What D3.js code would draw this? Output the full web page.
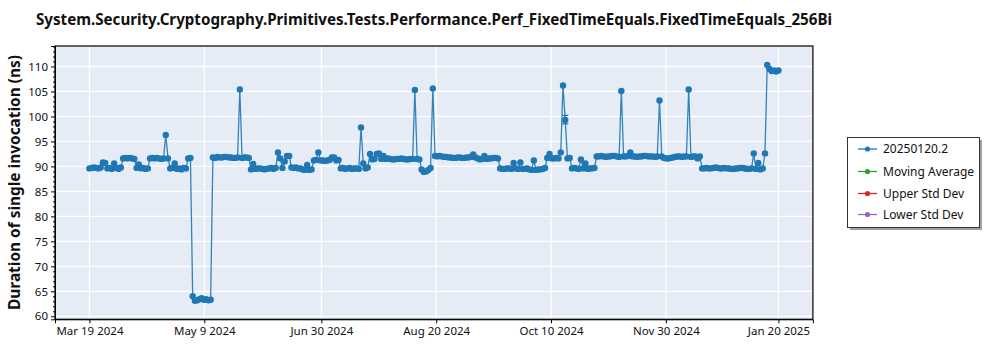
<!DOCTYPE html>
<html><head><meta charset="utf-8">
<script src="https://cdn.jsdelivr.net/npm/d3@7"></script>
<style>
body{margin:0;background:#fff;}
text{font-family:"Noto Sans","Open Sans",sans-serif;fill:#111;}
</style>
</head><body>
<svg id="chart" width="1000" height="350"></svg>
<script>
// ---------------- data ----------------
const titleText = "System.Security.Cryptography.Primitives.Tests.Performance.Perf_FixedTimeEquals.FixedTimeEquals_256Bi";
const yAxisLabel = "Duration of single invocation (ns)";
// one run per day starting at this date
const startDate = "2024-03-19T00:00:00Z";
const values = [
  89.6,89.7,89.8,89.7,89.6,89.8,90.8,90.7,89.6,89.7,89.5,90.6,89.7,89.5,89.8,
  91.6,91.7,91.6,91.7,91.6,91.5,
  89.7,90.4,89.6,89.7,89.5,89.6,
  91.6,91.7,91.6,91.7,91.6,91.5,91.6,96.3,91.6,
  89.6,89.7,90.6,89.5,89.6,89.4,89.7,89.6,
  91.6,91.7,
  64.0,63.1,63.2,63.4,63.6,63.3,63.4,63.2,63.3,
  91.8,91.7,91.9,91.8,91.8,91.9,91.9,91.8,91.8,91.7,91.7,91.8,105.4,91.7,91.8,91.8,91.7,
  89.4,90.5,89.5,89.6,89.6,89.5,89.4,89.5,89.6,89.7,89.5,89.7,92.8,91.6,89.7,91.0,92.1,92.1,89.8,89.7,89.8,89.6,89.6,89.4,89.3,90.3,89.3,89.4,
  91.2,91.3,92.8,91.2,91.2,91.1,91.2,91.3,91.8,91.8,91.2,91.3,
  89.6,89.7,89.5,89.6,89.7,89.5,89.6,89.6,89.5,97.8,90.6,89.6,
  89.8,92.5,91.4,91.5,92.5,92.6,91.5,92.1,91.5,91.6,91.5,91.4,91.4,91.5,91.5,91.6,91.5,91.4,91.4,91.5,91.5,105.3,91.5,91.4,
  89.4,88.9,89.0,89.3,89.7,
  105.6,
  92.1,92.0,92.1,92.0,91.9,91.9,91.8,91.8,91.7,91.7,91.8,91.8,91.7,91.7,91.8,91.8,91.9,92.4,91.8,91.6,91.4,91.5,92.1,91.5,91.6,91.6,91.7,91.7,91.6,
  89.6,89.5,89.5,89.6,89.6,89.5,90.7,89.6,89.5,90.8,89.5,89.5,89.6,89.4,89.3,91.2,89.3,89.4,89.4,89.5,89.7,
  91.7,92.5,91.6,91.6,91.7,91.6,92.8,106.2,99.3,91.6,91.7,
  89.6,89.7,89.6,89.5,91.4,89.6,90.6,89.5,89.6,89.6,89.7,
  92.0,92.0,92.1,92.0,91.9,92.0,92.0,92.1,92.1,92.0,91.9,105.1,92.0,92.0,92.1,92.8,92.0,92.0,91.9,92.0,92.0,92.1,92.1,92.0,92.0,92.0,91.9,92.0,103.2,92.0,91.7,91.6,91.6,91.7,91.8,91.9,92.0,92.0,91.9,92.0,92.0,105.4,91.9,92.0,92.0,91.6,92.0,
  89.6,89.6,89.7,89.6,89.6,89.7,89.8,89.7,89.6,89.6,89.7,89.6,89.6,89.5,89.5,89.6,89.6,89.7,89.7,89.6,89.5,89.5,89.6,92.6,89.5,90.7,89.4,89.6,92.6,
  110.3,109.5,109.1,109.2,109.0,109.2
];
const errorBarDays = [212];
const errorBarLow = [98.5];
const errorBarHigh = [100.2];
const xTickDates = ["2024-03-19T00:00:00Z","2024-05-09T04:00:00Z","2024-06-30T08:00:00Z","2024-08-20T12:00:00Z","2024-10-10T16:00:00Z","2024-11-30T20:00:00Z","2025-01-20T00:00:00Z"];
const xTickLabels = ["Mar 19 2024","May 9 2024","Jun 30 2024","Aug 20 2024","Oct 10 2024","Nov 30 2024","Jan 20 2025"];
const yTicks = [60,65,70,75,80,85,90,95,100,105,110];
const yDomain = [59.4, 114.1];
const legendLabels = ["20250120.2","Moving Average","Upper Std Dev","Lower Std Dev"];
const legendColors = ["#1f77b4","#2ca02c","#d62728","#9467bd"];

// ---------------- layout ----------------
const svg = d3.select("#chart");
const L = 55, R = 812.9, T = 46, B = 319.3;
const DAY = 86400000;
const t0 = new Date(startDate);
const toDate = d => new Date(t0.getTime() + d * DAY);
const tEnd = new Date(xTickDates[xTickDates.length-1]);
const pad = 15.35 * DAY;

const x = d3.scaleUtc().domain([new Date(t0.getTime()-pad), new Date(tEnd.getTime()+pad)]).range([L, R]);
const y = d3.scaleLinear().domain(yDomain).range([B, T]);

// background
svg.append("rect").attr("x", L).attr("y", T).attr("width", R-L).attr("height", B-T).attr("fill", "#e5ecf6");

// grid
const tickDates = xTickDates.map(s => new Date(s));
svg.append("g").selectAll("line").data(yTicks).join("line")
  .attr("x1", L).attr("x2", R).attr("y1", d => y(d)).attr("y2", d => y(d))
  .attr("stroke", "#fff").attr("stroke-width", 1.3);
svg.append("g").selectAll("line").data(tickDates).join("line")
  .attr("x1", d => x(d)).attr("x2", d => x(d)).attr("y1", T).attr("y2", B)
  .attr("stroke", "#fff").attr("stroke-width", 1.3);

// data
const pts = values.map((v, i) => ({date: toDate(i), v: v}));
svg.append("clipPath").attr("id", "clip").append("rect")
  .attr("x", L).attr("y", T).attr("width", R-L).attr("height", B-T);
const plot = svg.append("g").attr("clip-path", "url(#clip)");
plot.append("path").datum(pts)
  .attr("d", d3.line().x(p => x(p.date)).y(p => y(p.v)))
  .attr("fill", "none").attr("stroke", "#1f77b4").attr("stroke-width", 1.3).attr("stroke-opacity", 0.9);
plot.append("g").selectAll("circle").data(pts).join("circle")
  .attr("cx", p => x(p.date)).attr("cy", p => y(p.v)).attr("r", 3.2).attr("fill", "#1f77b4");
// error bars
const eb = plot.append("g").attr("stroke", "#1f77b4").attr("stroke-width", 1.2);
errorBarDays.forEach((d, i) => {
  const cx = x(toDate(d));
  eb.append("line").attr("x1", cx).attr("x2", cx).attr("y1", y(errorBarLow[i])).attr("y2", y(errorBarHigh[i]));
  [errorBarLow[i], errorBarHigh[i]].forEach(v => eb.append("line").attr("x1", cx-3).attr("x2", cx+3).attr("y1", y(v)).attr("y2", y(v)));
});

// axes
svg.append("g").attr("transform", `translate(${L},0)`)
  .call(d3.axisLeft(y).tickValues(yTicks).tickSize(4).tickPadding(3).tickFormat(d3.format("d")));
const minorTicks = d3.range(60, 115, 1).filter(v => v % 5 !== 0);
svg.append("g").attr("transform", `translate(${L},0)`)
  .call(d3.axisLeft(y).tickValues(minorTicks).tickSize(2).tickFormat(""))
  .call(g => g.select(".domain").remove());
svg.append("g").attr("transform", `translate(0,${B})`)
  .call(d3.axisBottom(x).tickValues(tickDates).tickSize(4).tickPadding(4)
    .tickFormat((d, i) => xTickLabels[i]));
svg.selectAll(".tick text").attr("font-size", 11.5).attr("font-family", "'Noto Sans',sans-serif").attr("fill", "#111");
svg.selectAll(".domain").attr("stroke", "#000");

// frame
svg.append("rect").attr("x", L).attr("y", T).attr("width", R-L).attr("height", B-T)
  .attr("fill", "none").attr("stroke", "#000").attr("stroke-width", 1.2);

// title
svg.append("text").attr("x", 36).attr("y", 25).attr("font-size", 16.5).attr("font-weight", "bold")
  .attr("textLength", 796).attr("lengthAdjust", "spacingAndGlyphs").text(titleText);
// y label
svg.append("text").attr("transform", `translate(20,${(55+310)/2}) rotate(-90)`)
  .attr("text-anchor", "middle").attr("font-size", 16).attr("font-weight", "bold")
  .attr("textLength", 255).attr("lengthAdjust", "spacingAndGlyphs").text(yAxisLabel);

// legend
const lg = svg.append("g");
lg.append("rect").attr("x", 850).attr("y", 140).attr("width", 132).attr("height", 90).attr("fill", "#a0a0a0");
lg.append("rect").attr("x", 847.5).attr("y", 137.5).attr("width", 132).attr("height", 90)
  .attr("fill", "#fff").attr("stroke", "#333").attr("stroke-width", 1);
const rowY = [149, 171.5, 193.5, 214.5];
legendLabels.forEach((lab, i) => {
  lg.append("line").attr("x1", 858).attr("x2", 877).attr("y1", rowY[i]).attr("y2", rowY[i])
    .attr("stroke", legendColors[i]).attr("stroke-width", 1.3);
  lg.append("circle").attr("cx", 867.5).attr("cy", rowY[i]).attr("r", 2.6).attr("fill", legendColors[i]);
  lg.append("text").attr("x", 883).attr("y", rowY[i]).attr("dy", "0.35em").attr("font-size", 12).text(lab);
});
</script>
</body></html>
